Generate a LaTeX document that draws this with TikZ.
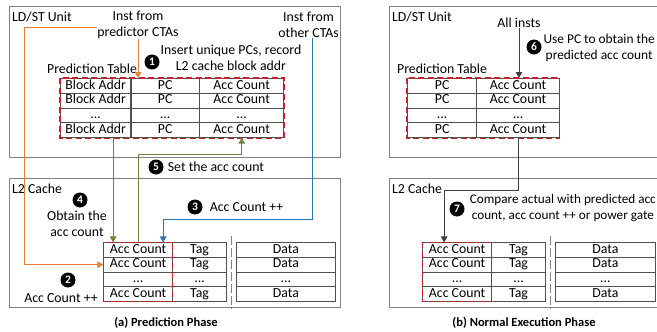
\documentclass[tikz,border=0pt]{standalone}
\usepackage{fontspec}
\setmainfont{Carlito}
\usepackage{tikz}
\usetikzlibrary{matrix,positioning,calc,arrows.meta}

\definecolor{lineorange}{RGB}{237,125,49}
\definecolor{lineblue}{RGB}{46,117,182}
\definecolor{lineolive}{RGB}{112,132,58}
\definecolor{cellgray}{RGB}{80,80,80}
\definecolor{boxgray}{RGB}{130,130,130}
\definecolor{predred}{RGB}{205,30,40}

\begin{document}
\begin{tikzpicture}[x=1pt,y=-1pt,font=\fontsize{13.8}{16}\selectfont,
    unitbox/.style={draw=boxgray,line width=1pt},
    tbl/.style={matrix of nodes,column sep=-0.9pt,row sep=-0.9pt,
        inner sep=0pt,outer sep=0pt,anchor=north west,
        nodes={rectangle,draw=cellgray,line width=0.9pt,inner sep=0pt,
            minimum height=14.8pt,text height=9.5pt,text depth=3pt}},
    predbox/.style={draw=predred,line width=1.2pt,dash pattern=on 6pt off 3.5pt},
    sepline/.style={draw=cellgray!70,line width=1pt,dash pattern=on 9pt off 3pt},
    stepnum/.style={circle,fill=black,text=white,inner sep=0pt,minimum size=15pt,
        font=\fontsize{11.5}{11.5}\selectfont\bfseries},
    flow/.style={line width=1pt,-{Triangle[length=6pt,width=6.5pt]}},
    lbl/.style={inner sep=0pt,align=center},
    phase/.style={inner sep=0pt,font=\fontsize{12.5}{14}\selectfont\bfseries}]

    \useasboundingbox (0,0) rectangle (657,332);
    \clip (0,0) rectangle (657,332);

    % (a) prediction phase
    \draw[unitbox] (9,6) rectangle (340,157);
    \draw[unitbox] (9,178) rectangle (340,307);
    \node[lbl,anchor=base west] (ldsta) at (12,21) {LD/ST Unit};
    \node[lbl,anchor=base west] (l2la) at (12,193) {L2 Cache};
    \node[lbl] (instpred) at (138,25) {Inst from\\predictor CTAs};
    \node[lbl,anchor=east] (instother) at (339,25) {Inst from\\other CTAs};
    \node[lbl,anchor=base west] (pta) at (47,73) {Prediction Table};

    \matrix (pt) [tbl,
        column 1/.style={nodes={minimum width=70.5pt}},
        column 2/.style={nodes={minimum width=68.5pt}},
        column 3/.style={nodes={minimum width=84.5pt}}] at (60,78) {
Block Addr & PC & Acc Count \\
Block Addr & PC & Acc Count \\
... & ... & ... \\
Block Addr & PC & Acc Count \\
    };
    \draw[predbox] (pt.north west) rectangle (pt.south east);

    \matrix (l2a) [tbl,
        column 1/.style={nodes={minimum width=69.4pt}},
        column 2/.style={nodes={minimum width=53.4pt}}] at (103,242) {
Acc Count & Tag \\
Acc Count & Tag \\
... & ... \\
Acc Count & Tag \\
    };
    \matrix (l2da) [tbl,right=9pt of l2a,
        nodes={minimum width=99.4pt}] {
Data \\
Data \\
... \\
Data \\
    };
    \draw[sepline] ($(l2a.north east)!.5!(l2da.north west)$) ++(0,-6)
        -- ($(l2a.south east)!.5!(l2da.south west)$) -- ++(0,6);
    \draw[predbox] (l2a-1-1.north west) rectangle (l2a-4-1.south east);

    \node[stepnum] (n1) at (152,62) {1};
    \node[lbl] (t1) at (231,58) {Insert unique PCs, record\\L2 cache block addr};
    \node[stepnum] (n2) at (68,280) {2};
    \node[lbl] (t2) at (61,298) {Acc Count ++};
    \node[stepnum] (n3) at (195,207) {3};
    \node[lbl,right=7pt of n3] (t3) {Acc Count ++};
    \node[stepnum] (n4) at (80,200) {4};
    \node[lbl] (t4) at (77,224) {Obtain the\\acc count};
    \node[stepnum] (n5) at (156,167) {5};
    \node[lbl,right=4pt of n5] (t5) {Set the acc count};

    \draw[flow,lineorange] (instpred.south) -- (instpred.south |- pt.north);
    \draw[flow,lineorange] ([yshift=-2.5pt]instpred.west) -- ++(-73,0)
        |- (l2a-2-1.west);
    \draw[flow,lineblue] ([xshift=4pt]instother.south) -- ++(0,182)
        -| ([xshift=25pt]l2a-1-1.north);
    \draw[flow,lineolive] ([xshift=-25pt]l2a-1-1.north |- pt.south)
        -- ([xshift=-25pt]l2a-1-1.north);
    \draw[flow,lineolive] (l2a-1-1.north) -- ++(0,-88) -| (pt-4-3.south);

    \node[phase] (capa) at (166,323) {(a) Prediction Phase};

    % (b) normal execution phase
    \draw[unitbox] (389,6) rectangle (680,157);
    \draw[unitbox] (389,178) rectangle (680,307);
    \node[lbl,anchor=base west] (ldstb) at (392,21) {LD/ST Unit};
    \node[lbl,anchor=base west] (l2lb) at (392,193) {L2 Cache};
    \node[lbl] (allinsts) at (519,23) {All insts};
    \node[lbl,anchor=base west] (ptb) at (397,73) {Prediction Table};

    \matrix (rpt) [tbl,
        column 1/.style={nodes={minimum width=69.4pt}},
        column 2/.style={nodes={minimum width=82.4pt}}] at (407,78) {
PC & Acc Count \\
PC & Acc Count \\
... & ... \\
PC & Acc Count \\
    };
    \draw[predbox] (rpt.north west) rectangle (rpt.south east);

    \matrix (l2b) [tbl,
        column 1/.style={nodes={minimum width=69.4pt}},
        column 2/.style={nodes={minimum width=53.4pt}}] at (422,242) {
Acc Count & Tag \\
Acc Count & Tag \\
... & ... \\
Acc Count & Tag \\
    };
    \matrix (l2db) [tbl,right=9pt of l2b,
        nodes={minimum width=100.4pt}] {
Data \\
Data \\
... \\
Data \\
    };
    \draw[sepline] ($(l2b.north east)!.5!(l2db.north west)$) ++(0,-6)
        -- ($(l2b.south east)!.5!(l2db.south west)$) -- ++(0,6);
    \draw[predbox] (l2b-1-1.north west) rectangle (l2b-4-1.south east);

    \node[stepnum] (n6) at (534,47) {6};
    \node[lbl,anchor=east,font=\fontsize{13.4}{16}\selectfont] (t6) at (655,48)
        {Use PC to obtain the\\predicted acc count};
    \node[stepnum] (n7) at (457,209) {7};
    \node[lbl,anchor=east,font=\fontsize{13.2}{16}\selectfont] (t7) at (656,208)
        {Compare actual with predicted acc\\count, acc count ++ or power gate};

    \draw[flow,black!75] (allinsts.south) -- (allinsts.south |- rpt.north);
    \draw[flow,black!75] (rpt-4-2.south) -- ++(0,53)
        -| ([xshift=-13pt]l2b-1-1.north);

    \node[phase] (capb) at (524,323) {(b) Normal Execution Phase};
\end{tikzpicture}
\end{document}
